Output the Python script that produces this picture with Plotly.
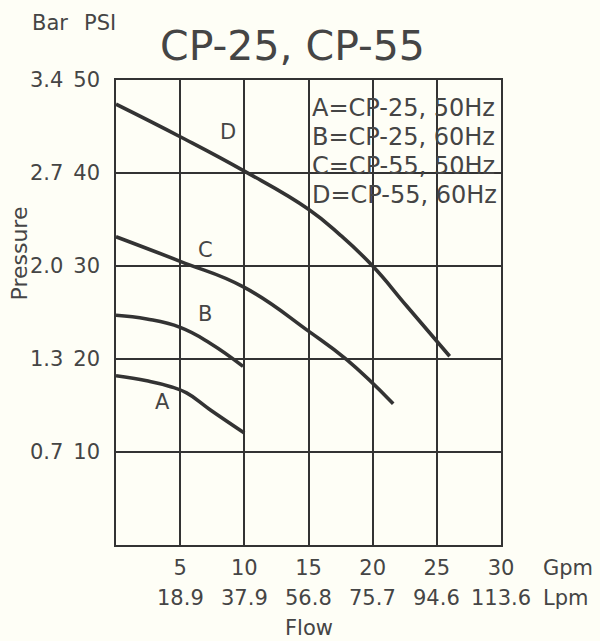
import plotly.graph_objects as go

# ---- data ----
gpm_ticks = [5, 10, 15, 20, 25, 30]
gpm_labels = ["5", "10", "15", "20", "25", "30"]
lpm_labels = ["18.9", "37.9", "56.8", "75.7", "94.6", "113.6"]
psi_ticks = [10, 20, 30, 40, 50]
psi_labels = ["10", "20", "30", "40", "50"]
bar_labels = ["0.7", "1.3", "2.0", "2.7", "3.4"]

a_flow = [0, 2.4, 4.2, 5.5, 7.33, 10]
a_psi = [18.2, 17.65, 17.05, 16.35, 14.55, 12.05]
b_flow = [0, 2.4, 5, 7.33, 9.9]
b_psi = [24.7, 24.3, 23.4, 21.7, 19.2]
c_flow = [0, 5, 10, 15, 18, 21.6]
c_psi = [33.15, 30.5, 27.7, 23.0, 19.9, 15.2]
d_flow = [0, 5, 10, 15, 17.5, 20, 22.65, 26]
d_psi = [47.4, 43.9, 40.2, 36.1, 33.3, 30.0, 25.7, 20.3]

curve_names = ["A", "B", "C", "D"]
label_flow = [3.59, 6.97, 6.94, 8.73]
label_psi = [15.4, 24.8, 31.7, 44.4]

legend_lines = ["A=CP-25, 50Hz", "B=CP-25, 60Hz", "C=CP-55, 50Hz", "D=CP-55, 60Hz"]

# ---- style ----
BG = "#fefef6"
INK = "#333333"
TXT = "#454545"
FONT = "DejaVu Sans"

fig = go.Figure()
for fx, fy in [(a_flow, a_psi), (b_flow, b_psi), (c_flow, c_psi), (d_flow, d_psi)]:
    fig.add_trace(go.Scatter(
        x=fx, y=fy, mode="lines",
        line=dict(color=INK, width=3.6, shape="spline", smoothing=1.3),
        showlegend=False, hoverinfo="skip",
    ))

# Legend box that hides the grid behind the text
fig.add_shape(type="rect", xref="paper", yref="paper",
              x0=(312 - 116) / 385, x1=(499 - 116) / 385,
              y0=(545 - 223) / 465, y1=(545 - 85) / 465,
              fillcolor=BG, line=dict(width=0), layer="between")

ann = []
# curve labels
for n, fx, fy in zip(curve_names, label_flow, label_psi):
    ann.append(dict(x=fx, y=fy, xref="x", yref="y", text=n, showarrow=False,
                    font=dict(family=FONT, size=21, color=TXT)))
# legend text lines
for i, t in enumerate(legend_lines):
    ann.append(dict(x=(310 - 116) / 385, y=1, xref="paper", yref="paper",
                    xanchor="left", yanchor="middle", yshift=-(107.7 - 80) - i * 29.1,
                    text=t, showarrow=False,
                    font=dict(family=FONT, size=24, color=TXT)))
# bar labels left of the PSI tick labels
for v, t in zip(psi_ticks, bar_labels):
    ann.append(dict(x=0, y=v, xref="paper", yref="y", xanchor="right", yanchor="middle",
                    xshift=-(116 - 65), text=t, showarrow=False,
                    font=dict(family=FONT, size=21, color=TXT)))
# Lpm row under the Gpm tick labels
for v, t in zip(gpm_ticks, lpm_labels):
    ann.append(dict(x=v, y=0, xref="x", yref="paper", xanchor="center", yanchor="middle",
                    yshift=-(597.5 - 545), text=t, showarrow=False,
                    font=dict(family=FONT, size=21, color=TXT)))
# unit labels
ann.append(dict(x=(541 - 116) / 385, y=0, xref="paper", yref="paper", xanchor="left",
                yanchor="middle", yshift=-(568 - 545), text="Gpm", showarrow=False,
                font=dict(family=FONT, size=21, color=TXT)))
ann.append(dict(x=(541 - 116) / 385, y=0, xref="paper", yref="paper", xanchor="left",
                yanchor="middle", yshift=-(597.5 - 545), text="Lpm", showarrow=False,
                font=dict(family=FONT, size=21, color=TXT)))
ann.append(dict(x=(30 - 116) / 385, y=1, xref="paper", yref="paper", xanchor="left",
                yanchor="middle", yshift=80 - 22.5, text="Bar", showarrow=False,
                font=dict(family=FONT, size=21, color=TXT)))
ann.append(dict(x=(118 - 116) / 385, y=1, xref="paper", yref="paper", xanchor="right",
                yanchor="middle", yshift=80 - 22.5, text="PSI", showarrow=False,
                font=dict(family=FONT, size=21, color=TXT)))
ann.append(dict(x=(309 - 116) / 385, y=0, xref="paper", yref="paper", xanchor="center",
                yanchor="middle", yshift=-(628 - 545), text="Flow", showarrow=False,
                font=dict(family=FONT, size=21, color=TXT)))
ann.append(dict(x=(19.5 - 116) / 385, y=(545 - 254) / 465, xref="paper", yref="paper",
                xanchor="center", yanchor="middle", textangle=-90, text="Pressure",
                showarrow=False, font=dict(family=FONT, size=22, color=TXT)))

fig.update_layout(
    width=600, height=641,
    margin=dict(l=116, r=99, t=80, b=96),
    paper_bgcolor=BG, plot_bgcolor=BG,
    title=dict(text="CP-25, CP-55", x=292.5 / 600, xanchor="center",
               y=1 - 46 / 641, yanchor="middle",
               font=dict(family=FONT, size=41, color=TXT)),
    annotations=ann,
    showlegend=False,
)
fig.update_xaxes(range=[0, 30], tickvals=gpm_ticks, ticktext=gpm_labels,
                 showgrid=True, gridcolor=INK, gridwidth=1.5,
                 showline=True, mirror=True, linecolor=INK, linewidth=1.5,
                 zeroline=False, ticks="", ticklabelstandoff=3,
                 tickfont=dict(family=FONT, size=21, color=TXT), fixedrange=True)
fig.update_yaxes(range=[0, 50], tickvals=psi_ticks, ticktext=psi_labels,
                 showgrid=True, gridcolor=INK, gridwidth=1.5,
                 showline=True, mirror=True, linecolor=INK, linewidth=1.5,
                 zeroline=False, ticks="", ticklabelstandoff=10,
                 tickfont=dict(family=FONT, size=21, color=TXT), fixedrange=True)

fig.write_html("out.html", config={"displayModeBar": False},
               post_script="document.body.style.margin='0';document.body.style.background='%s';" % BG)
